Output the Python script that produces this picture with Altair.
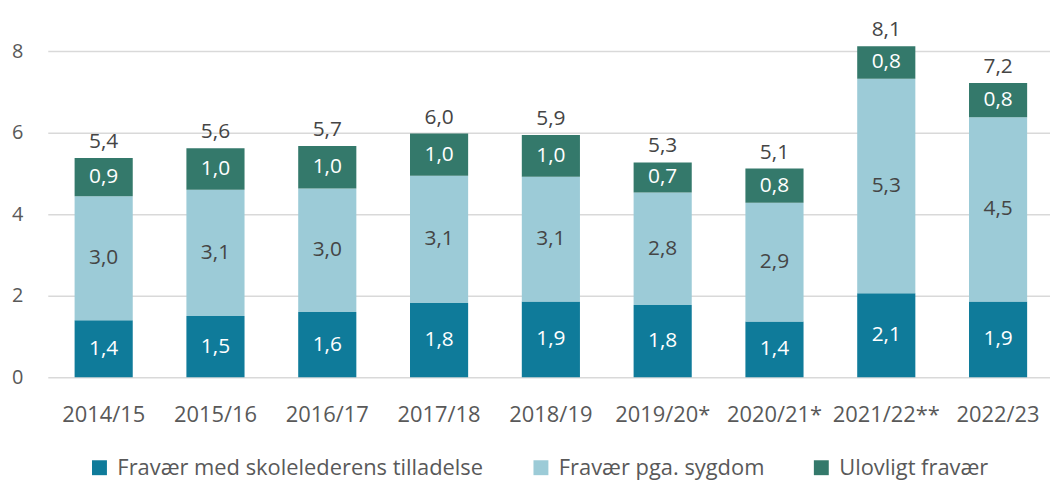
import altair as alt
import pandas as pd

years = ["2014/15", "2015/16", "2016/17", "2017/18", "2018/19", "2019/20*", "2020/21*", "2021/22**", "2022/23"]
tilladelse = [1.40, 1.50, 1.60, 1.82, 1.86, 1.77, 1.37, 2.06, 1.86]
sygdom = [3.04, 3.10, 3.03, 3.12, 3.06, 2.76, 2.91, 5.26, 4.52]
ulovligt = [0.94, 1.02, 1.04, 1.04, 1.02, 0.74, 0.84, 0.80, 0.84]

series = ["Fravær med skolelederens tilladelse", "Fravær pga. sygdom", "Ulovligt fravær"]
colors = ["#0f7b9a", "#9ccbd7", "#34796b"]
label_colors = ["#ffffff", "#454545", "#ffffff"]

rows = []
for i, y in enumerate(years):
    for k, vals in enumerate([tilladelse, sygdom, ulovligt]):
        rows.append({"year": y, "series": series[k], "value": vals[i], "order": k,
                     "lc": label_colors[k]})
df = pd.DataFrame(rows)

FONT = "Open Sans"

xenc = alt.X("year:N", sort=years, title=None,
             scale=alt.Scale(paddingInner=0.48, paddingOuter=0.24, range=[0, 1012]))

bars = alt.Chart(df).mark_bar().encode(
    x=xenc,
    y=alt.Y("value:Q", stack="zero", title=None,
            scale=alt.Scale(domain=[0, 8], nice=False),
            axis=alt.Axis(values=[0, 2, 4, 6, 8])),
    color=alt.Color("series:N", sort=series,
                    scale=alt.Scale(domain=series, range=colors),
                    legend=alt.Legend(title=None, orient="none", direction="horizontal",
                                      legendX=41, legendY=408,
                                      symbolType="square",
                                      symbolSize=225, symbolStrokeWidth=0,
                                      labelFontSize=22, labelColor="#595959",
                                      labelFont=FONT, labelLimit=600, columnPadding=46,
                                      labelOffset=7, padding=0)),
    order=alt.Order("order:Q"),
)

seg_labels = alt.Chart(df).transform_stack(
    stack="value", groupby=["year"], sort=[alt.SortField("order")], as_=["y0", "y1"]
).transform_calculate(
    mid="(datum.y0 + datum.y1) / 2",
    lab="replace(format(datum.value, '.1f'), '.', ',')",
).mark_text(fontSize=21, font=FONT, baseline="middle").encode(
    x=xenc,
    y=alt.Y("mid:Q", title=None),
    text="lab:N",
    color=alt.Color("lc:N", scale=None),
)

tot_labels = alt.Chart(df).transform_aggregate(
    total="sum(value)", groupby=["year"]
).transform_calculate(
    lab="replace(format(datum.total, '.1f'), '.', ',')"
).mark_text(fontSize=21, font=FONT, baseline="alphabetic", dy=-10, color="#454545").encode(
    x=xenc,
    y=alt.Y("total:Q", title=None),
    text="lab:N",
)

chart = alt.layer(bars, seg_labels, tot_labels).properties(
    width=1008, height=328,
    autosize=alt.AutoSizeParams(type="none"),
    padding={"left": 40, "top": 42, "right": 0, "bottom": 104},
).configure_view(stroke=None).configure_axis(
    ticks=False, domain=False, labelColor="#595959", labelFont=FONT,
).configure_axisX(
    labelAngle=0, labelPadding=28, grid=False, labelFontSize=22,
).configure_axisY(
    labelPadding=25, gridColor="#d9d9d9", gridWidth=1.5, labelFontSize=20,
)

chart.save("out.html", embed_options={"renderer": "svg", "actions": False})
